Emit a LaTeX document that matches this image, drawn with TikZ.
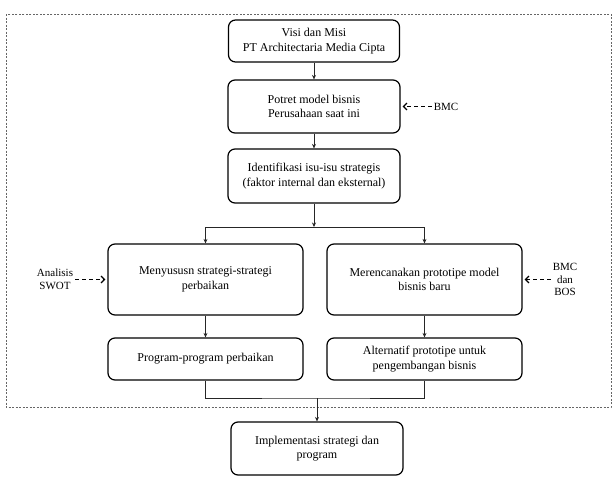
\documentclass[tikz,border=0pt]{standalone}
\usepackage{fontspec}
\setmainfont{Liberation Serif}
\usetikzlibrary{arrows.meta}
\tikzset{
  box/.style={draw,line width=1.2pt,rounded corners=7pt,align=center,inner sep=0pt,font=\fontsize{12}{14.5}\selectfont},
  side/.style={align=center,inner sep=2pt,font=\fontsize{11}{12.5}\selectfont},
  link/.style={draw=black!85,line width=0.6pt},
  tip/.style={-{Stealth[length=4.5pt,width=4pt]}},
  feed/.style={line width=1.2pt,dash pattern=on 4pt off 3pt,-{Straight Barb[length=3.5pt,width=7pt]},shorten >=2pt}
}
\begin{document}
\begin{tikzpicture}[x=1pt,y=-1pt]
\useasboundingbox (0,0) rectangle (614,482);
\draw[black!60,line width=0.5pt,dash pattern=on 2pt off 1.5pt] (6,14) rectangle (611,407);
\node[box,minimum width=171pt,minimum height=42pt] (visi) at (314,41) {Visi dan Misi\\PT Architectaria Media Cipta};
\node[box,minimum width=172pt,minimum height=53pt] (potret) at (314,106.5) {Potret model bisnis\\Perusahaan saat ini};
\node[box,minimum width=172pt,minimum height=54pt] (identifikasi) at (314,176) {Identifikasi isu-isu strategis\\(faktor internal dan eksternal)};
\node[box,minimum width=195pt,minimum height=71pt] (menyusun) at (205.5,279.5) {Menyususn strategi-strategi\\perbaikan};
\node[box,minimum width=195pt,minimum height=71pt] (merencanakan) at (424.5,279.5) {Merencanakan prototipe model\\bisnis baru};
\node[box,minimum width=195pt,minimum height=42pt] (program) at (205.5,359) {Program-program perbaikan};
\node[box,minimum width=195pt,minimum height=42pt] (alternatif) at (424.5,359) {Alternatif prototipe untuk\\pengembangan bisnis};
\node[box,minimum width=172pt,minimum height=53pt] (implementasi) at (317,448.5) {Implementasi strategi dan\\program};
\node[side] (bmc) at (446,106.5) {BMC};
\node[side] (swot) at (55,279.5) {Analisis\\SWOT};
\node[side] (bos) at (565,279.5) {BMC\\dan\\BOS};
\draw[feed] (bmc) -- (potret);
\draw[feed] (swot) -- (menyusun);
\draw[feed] (bos) -- (merencanakan);
\coordinate (split) at (314,227);
\coordinate (merge) at (317,398);
\draw[link,tip] (visi) -- (potret);
\draw[link,tip] (potret) -- (identifikasi);
\draw[link,tip] (identifikasi) -- (split);
\draw[link,tip] (split) -| (menyusun);
\draw[link,tip] (split) -| (merencanakan);
\draw[link,tip] (menyusun) -- (program);
\draw[link,tip] (merencanakan) -- (alternatif);
\draw[link] (program) |- (merge) -| (alternatif);
\draw[link,tip] (merge) -- (implementasi);
\end{tikzpicture}
\end{document}
